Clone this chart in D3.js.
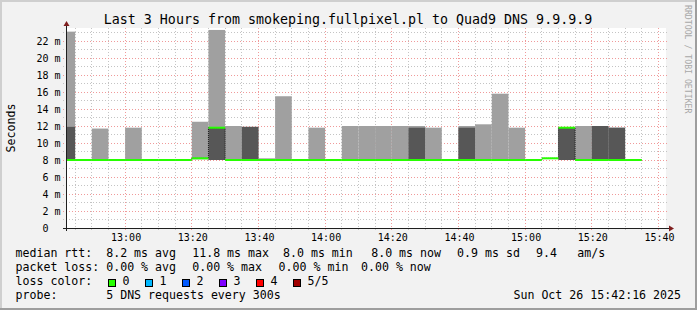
<!DOCTYPE html>
<html lang="en">
<head>
<meta charset="UTF-8">
<title>Last 3 Hours from smokeping.fullpixel.pl to Quad9 DNS 9.9.9.9</title>
<script src="https://d3js.org/d3.v7.min.js"></script>
<style>
    body { margin: 0; background: #f2f2f2; }
    svg { display: block; font-family: "DejaVu Sans Mono", monospace; }
    .legend text { font-size: 11.6px; fill: #000; white-space: pre; }
</style>
</head>
<body>
<div id="chart"></div>
<script>
// 5-minute steps, 5 DNS requests each, sorted rtt values in ms
const stepTimes = ["12:40","12:45","12:50","12:55","13:00","13:05","13:10","13:15","13:20","13:25",
    "13:30","13:35","13:40","13:45","13:50","13:55","14:00","14:05","14:10","14:15",
    "14:20","14:25","14:30","14:35","14:40","14:45","14:50","14:55","15:00","15:05",
    "15:10","15:15","15:20","15:25","15:30"];
const minRtt    = [8.0,8.0,8.0,8.0,8.0,8.0,8.0,8.0,8.1,8.0, 8.0,8.0,8.0,8.0,8.0,8.0,8.0,8.0,8.0,8.0, 8.0,8.0,8.0,8.0,8.0,8.0,8.0,8.0,8.0,8.2, 8.0,8.0,8.0,8.0,8.0];
const lowRtt    = [8.0,8.0,8.0,8.0,8.0,8.0,8.0,8.0,8.1,8.0, 8.0,8.0,8.0,8.0,8.0,8.0,8.0,8.0,8.0,8.0, 8.0,8.0,8.0,8.0,8.0,8.0,8.0,8.0,8.0,8.2, 8.0,8.0,8.0,8.0,8.0];
const medianRtt = [8.0,8.0,8.0,8.0,8.0,8.0,8.0,8.0,8.2,11.8, 8.0,8.0,8.0,8.0,8.0,8.0,8.0,8.0,8.0,8.0, 8.0,8.0,8.0,8.0,8.0,8.0,8.0,8.0,8.0,8.2, 11.8,8.0,8.0,8.0,8.0];
const highRtt   = [11.9,8.0,8.0,8.0,8.0,8.0,8.0,8.0,8.2,11.8, 8.0,11.9,8.0,8.0,8.0,8.0,8.0,8.0,8.0,8.0, 8.0,11.8,8.0,8.0,11.8,8.0,8.0,8.0,8.0,8.2, 11.8,8.0,12.0,11.8,8.0];
const maxRtt    = [23.1,8.1,11.7,8.0,11.8,8.0,8.0,8.0,12.5,23.3, 12.0,11.9,8.2,15.5,8.0,11.8,8.0,12.0,12.0,12.0, 12.0,12.0,11.8,8.0,12.0,12.2,15.8,11.8,8.0,8.2, 11.8,12.0,12.0,11.8,8.0];
const lossCount = [0,0,0,0,0,0,0,0,0,0, 0,0,0,0,0,0,0,0,0,0, 0,0,0,0,0,0,0,0,0,0, 0,0,0,0,0];

const yTicks = [0,2,4,6,8,10,12,14,16,18,20,22];
const lossLabels = ["0","1","2","3","4","5/5"];
const lossColors = ["#26ff00","#00b8ff","#0059ff","#7e00ff","#ff0000","#a00000"];

const title = "Last 3 Hours from smokeping.fullpixel.pl to Quad9 DNS 9.9.9.9";
const rttStats = ["8.2 ms avg","11.8 ms max","8.0 ms min","8.0 ms now","0.9 ms sd","9.4","am/s"];
const lossStats = ["0.00 % avg","0.00 % max","0.00 % min","0.00 % now"];
const probeText = "5 DNS requests every 300s";
const stampText = "Sun Oct 26 15:42:16 2025";

const W = 697, H = 310;
const day = "2025-10-26 ";
const parse = d3.timeParse("%Y-%m-%d %H:%M");
const endTime = d3.timeParse("%Y-%m-%d %H:%M:%S")(day + "15:42:16");
const startTime = d3.timeHour.offset(endTime, -3);

const x = d3.scaleTime().domain([startTime, endTime]).range([66, 666]);
const y = d3.scaleLinear().domain([0, 200 / 8.5]).range([228, 28]);

const steps = stepTimes.map((t, i) => {
    const t0 = parse(day + t);
    return { t0, t1: d3.timeMinute.offset(t0, 5), min: minRtt[i], low: lowRtt[i],
             med: medianRtt[i], high: highRtt[i], max: maxRtt[i], loss: lossCount[i] };
});

const svg = d3.select("#chart").append("svg").attr("width", W).attr("height", H);

// frame
svg.append("rect").attr("width", W).attr("height", H).attr("fill", "#f2f2f2");
svg.append("rect").attr("x", 0).attr("y", 0).attr("width", W).attr("height", 2).attr("fill", "#cfcfcf");
svg.append("rect").attr("x", 0).attr("y", 0).attr("width", 2).attr("height", H).attr("fill", "#cfcfcf");
svg.append("rect").attr("x", 0).attr("y", H - 2).attr("width", W).attr("height", 2).attr("fill", "#9e9e9e");
svg.append("rect").attr("x", W - 2).attr("y", 0).attr("width", 2).attr("height", H).attr("fill", "#9e9e9e");

// canvas
svg.append("rect").attr("x", 66).attr("y", 28).attr("width", 600).attr("height", 200).attr("fill", "#fff");

const px = v => Math.floor(v) + 0.5;

// grid
const grid = svg.append("g");
const yMinor = d3.range(1, 24).filter(v => v % 2 !== 0);
grid.selectAll(".hmin").data(yMinor).join("line")
    .attr("x1", 63).attr("x2", 668).attr("y1", d => px(y(d))).attr("y2", d => px(y(d)))
    .attr("stroke", "#c4c4c4").attr("stroke-dasharray", "1,2");
grid.selectAll(".vmin").data(x.ticks(d3.timeMinute.every(5)).filter(d => d.getMinutes() % 20 !== 0)).join("line")
    .attr("x1", d => px(x(d))).attr("x2", d => px(x(d))).attr("y1", 28).attr("y2", 231)
    .attr("stroke", "#c4c4c4").attr("stroke-dasharray", "1,2");
grid.selectAll(".hmaj").data(yTicks.filter(v => v > 0)).join("line")
    .attr("x1", 63).attr("x2", 668).attr("y1", d => px(y(d))).attr("y2", d => px(y(d)))
    .attr("stroke", "#f09a9a").attr("stroke-dasharray", "1,2");
const xMajor = x.ticks(d3.timeMinute.every(20));
grid.selectAll(".vmaj").data(xMajor).join("line")
    .attr("x1", d => px(x(d))).attr("x2", d => px(x(d))).attr("y1", 28).attr("y2", 231)
    .attr("stroke", "#f09a9a").attr("stroke-dasharray", "1,2");

// smoke
svg.append("clipPath").attr("id", "plot").append("rect")
    .attr("x", 66).attr("y", 20).attr("width", 600).attr("height", 210);
const smoke = svg.append("g").attr("clip-path", "url(#plot)");
smoke.selectAll(".outer").data(steps).join("rect")
    .attr("x", d => x(d.t0)).attr("width", d => x(d.t1) - x(d.t0))
    .attr("y", d => y(d.max)).attr("height", d => y(d.min) - y(d.max))
    .attr("fill", "#a0a0a0");
smoke.selectAll(".inner").data(steps).join("rect")
    .attr("x", d => x(d.t0)).attr("width", d => x(d.t1) - x(d.t0))
    .attr("y", d => y(d.high)).attr("height", d => y(d.low) - y(d.high))
    .attr("fill", "#575757");

// median: dark step line, then loss-coloured segments
const stepPts = steps.flatMap(d => [[x(d.t0), y(d.med)], [x(d.t1), y(d.med)]]);
smoke.append("path")
    .attr("d", d3.line()(stepPts))
    .attr("fill", "none").attr("stroke", "#1f1f1f").attr("stroke-dasharray", "1,1");
smoke.selectAll(".med").data(steps).join("line")
    .attr("x1", d => x(d.t0)).attr("x2", d => x(d.t1))
    .attr("y1", d => y(d.med)).attr("y2", d => y(d.med))
    .attr("stroke", d => lossColors[d.loss]).attr("stroke-width", 2);

// axes
svg.append("line").attr("x1", 66.5).attr("x2", 66.5).attr("y1", 231).attr("y2", 24).attr("stroke", "#1f1f1f");
svg.append("line").attr("x1", 63).attr("x2", 670).attr("y1", 228.5).attr("y2", 228.5).attr("stroke", "#1f1f1f");
svg.append("path").attr("d", "M63.5,26L69.5,26L66.5,21Z").attr("fill", "#7f1f1f");
svg.append("path").attr("d", "M669,225.5L669,231.5L674,228.5Z").attr("fill", "#7f1f1f");

// tick labels
svg.append("g").selectAll("text").data(yTicks).join("text")
    .attr("x", 60.5).attr("y", d => y(d)).attr("dy", "0.4em")
    .attr("text-anchor", "end").style("white-space", "pre").style("font-size", "10px")
    .text(d => d === 0 ? "0  " : d + " m");
svg.append("g").selectAll("text").data(xMajor).join("text")
    .attr("x", d => x(d) + 1).attr("y", 241)
    .attr("text-anchor", "middle").style("font-size", "10px")
    .text(d3.timeFormat("%H:%M"));

// titles
svg.append("text").attr("x", 348).attr("y", 23.5).attr("text-anchor", "middle")
    .style("font-size", "13.3px").text(title);
svg.append("text").attr("transform", "translate(14.5,128) rotate(-90)")
    .attr("text-anchor", "middle").style("font-size", "11.6px").text("Seconds");
svg.append("text").attr("transform", "translate(684.5,5) rotate(90)")
    .style("font-size", "8.2px").attr("fill", "#a8a8a8").text("RRDTOOL / TOBI OETIKER");

// legend
const leg = svg.append("g").attr("class", "legend");
const rttX = [106.2, 192.2, 283, 371.2, 457.1, 536.1, 577.3];
const lossX = [106.2, 192.2, 278.6, 361];
leg.append("text").attr("x", 15.5).attr("y", 257).text("median rtt:");
leg.selectAll(".rtt").data(rttStats).join("text").attr("x", (d, i) => rttX[i]).attr("y", 257).text(d => d);
leg.append("text").attr("x", 15.5).attr("y", 271).text("packet loss:");
leg.selectAll(".pl").data(lossStats).join("text").attr("x", (d, i) => lossX[i]).attr("y", 271).text(d => d);
leg.append("text").attr("x", 15.5).attr("y", 285).text("loss color:");
const box = leg.selectAll(".box").data(lossLabels).join("g")
    .attr("transform", (d, i) => `translate(${108.5 + i * 37},279.5)`);
box.append("rect").attr("width", 7).attr("height", 7)
    .attr("fill", (d, i) => lossColors[i]).attr("stroke", "#000");
box.append("text").attr("x", 14).attr("y", 5.5).text(d => d);
leg.append("text").attr("x", 15.5).attr("y", 299).text("probe:");
leg.append("text").attr("x", 106.2).attr("y", 299).text(probeText);
leg.append("text").attr("x", 681).attr("y", 299).attr("text-anchor", "end").text(stampText);
</script>
</body>
</html>
